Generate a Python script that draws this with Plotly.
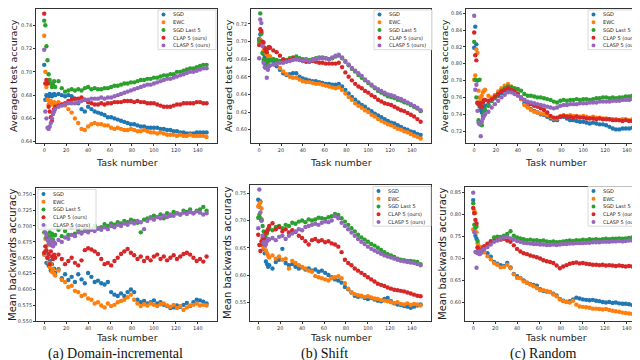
import plotly.graph_objects as go

W, H = 640, 360

tasks = [0, 1, 2, 3, 4, 5, 6, 7, 8, 9,
         10, 13, 16, 19, 22, 25, 28, 31, 34, 37,
         40, 43, 46, 49, 52, 55, 58, 61, 64, 67,
         70, 73, 76, 79, 82, 85, 88, 91, 94, 97,
         100, 103, 106, 109, 112, 115, 118, 121, 124, 127,
         130, 133, 136, 139, 142, 145, 148]

labels = ["SGD", "EWC", "SGD Last 5", "CLAP 5 (ours)", "CLASP 5 (ours)"]
colors = ["#1f77b4", "#ff7f0e", "#2ca02c", "#d62728", "#9467bd"]
x_ticks = [0, 20, 40, 60, 80, 100, 120, 140]

# (a) Domain-incremental - averaged test accuracy
dom_test_sgd = [0.706, 0.676, 0.680, 0.678, 0.679, 0.681, 0.680, 0.679, 0.680, 0.681,
                0.680, 0.681, 0.680, 0.679, 0.680, 0.679, 0.677, 0.673, 0.668, 0.666,
                0.670, 0.668, 0.666, 0.665, 0.664, 0.663, 0.661, 0.661, 0.660, 0.659,
                0.658, 0.657, 0.656, 0.655, 0.655, 0.654, 0.653, 0.653, 0.652, 0.652,
                0.652, 0.652, 0.651, 0.651, 0.650, 0.650, 0.649, 0.649, 0.648, 0.648,
                0.647, 0.647, 0.647, 0.648, 0.648, 0.648, 0.648]
dom_test_ewc = [0.731, 0.700, 0.687, 0.676, 0.672, 0.674, 0.675, 0.672, 0.673, 0.674,
                0.673, 0.674, 0.672, 0.671, 0.668, 0.665, 0.660, 0.656, 0.651, 0.650,
                0.653, 0.655, 0.656, 0.655, 0.655, 0.654, 0.654, 0.652, 0.651, 0.652,
                0.651, 0.650, 0.650, 0.651, 0.650, 0.649, 0.649, 0.650, 0.649, 0.648,
                0.648, 0.647, 0.648, 0.647, 0.646, 0.646, 0.646, 0.645, 0.646, 0.645,
                0.645, 0.646, 0.645, 0.645, 0.645, 0.645, 0.644]
dom_test_last = [0.744, 0.740, 0.722, 0.710, 0.698, 0.693, 0.690, 0.687, 0.689, 0.692,
                 0.687, 0.692, 0.686, 0.683, 0.684, 0.685, 0.684, 0.685, 0.684, 0.686,
                 0.687, 0.685, 0.686, 0.685, 0.685, 0.686, 0.686, 0.687, 0.688, 0.688,
                 0.689, 0.690, 0.690, 0.691, 0.691, 0.692, 0.693, 0.693, 0.694, 0.694,
                 0.695, 0.695, 0.696, 0.697, 0.697, 0.698, 0.698, 0.700, 0.700, 0.701,
                 0.702, 0.703, 0.703, 0.704, 0.705, 0.706, 0.706]
dom_test_clap = [0.750, 0.690, 0.693, 0.690, 0.670, 0.666, 0.661, 0.658, 0.664, 0.668,
                 0.670, 0.671, 0.672, 0.673, 0.675, 0.676, 0.677, 0.677, 0.678, 0.676,
                 0.674, 0.673, 0.672, 0.672, 0.673, 0.672, 0.673, 0.673, 0.674, 0.674,
                 0.674, 0.675, 0.675, 0.675, 0.674, 0.675, 0.674, 0.674, 0.673, 0.673,
                 0.673, 0.672, 0.671, 0.670, 0.670, 0.670, 0.671, 0.672, 0.672, 0.673,
                 0.673, 0.673, 0.673, 0.674, 0.674, 0.673, 0.673]
dom_test_clasp = [0.719, 0.666, 0.660, 0.652, 0.651, 0.653, 0.656, 0.660, 0.664, 0.666,
                  0.668, 0.670, 0.671, 0.672, 0.673, 0.673, 0.673, 0.674, 0.675, 0.676,
                  0.676, 0.677, 0.677, 0.677, 0.678, 0.677, 0.678, 0.678, 0.679, 0.680,
                  0.681, 0.682, 0.683, 0.684, 0.685, 0.686, 0.687, 0.688, 0.689, 0.689,
                  0.690, 0.691, 0.692, 0.693, 0.694, 0.694, 0.695, 0.696, 0.697, 0.698,
                  0.699, 0.700, 0.700, 0.701, 0.702, 0.703, 0.703]

# (b) Shift - averaged test accuracy
shift_test_sgd = [0.703, 0.708, 0.710, 0.699, 0.686, 0.682, 0.678, 0.673, 0.677, 0.679,
                  0.679, 0.677, 0.672, 0.668, 0.664, 0.662, 0.663, 0.664, 0.664, 0.660,
                  0.658, 0.657, 0.656, 0.655, 0.655, 0.654, 0.653, 0.652, 0.652, 0.651,
                  0.651, 0.652, 0.649, 0.645, 0.641, 0.637, 0.634, 0.631, 0.628, 0.626,
                  0.623, 0.621, 0.618, 0.616, 0.614, 0.612, 0.610, 0.608, 0.607, 0.605,
                  0.603, 0.601, 0.600, 0.598, 0.597, 0.595, 0.594]
shift_test_ewc = [0.699, 0.702, 0.700, 0.697, 0.690, 0.688, 0.687, 0.686, 0.684, 0.683,
                  0.683, 0.680, 0.675, 0.670, 0.666, 0.663, 0.660, 0.659, 0.659, 0.657,
                  0.655, 0.654, 0.654, 0.653, 0.652, 0.652, 0.651, 0.650, 0.649, 0.648,
                  0.647, 0.648, 0.645, 0.641, 0.637, 0.634, 0.630, 0.627, 0.625, 0.622,
                  0.620, 0.617, 0.615, 0.612, 0.610, 0.608, 0.606, 0.605, 0.603, 0.601,
                  0.600, 0.598, 0.597, 0.595, 0.593, 0.592, 0.590]
shift_test_last = [0.701, 0.732, 0.709, 0.687, 0.679, 0.676, 0.673, 0.678, 0.679, 0.678,
                   0.679, 0.680, 0.679, 0.678, 0.677, 0.679, 0.681, 0.682, 0.683, 0.681,
                   0.680, 0.680, 0.679, 0.680, 0.681, 0.682, 0.682, 0.681, 0.680, 0.681,
                   0.683, 0.684, 0.681, 0.677, 0.673, 0.669, 0.666, 0.662, 0.659, 0.656,
                   0.653, 0.650, 0.647, 0.644, 0.642, 0.640, 0.638, 0.637, 0.636, 0.634,
                   0.633, 0.631, 0.630, 0.628, 0.626, 0.624, 0.621]
shift_test_clap = [0.696, 0.714, 0.712, 0.700, 0.699, 0.693, 0.690, 0.688, 0.692, 0.694,
                   0.693, 0.690, 0.688, 0.684, 0.680, 0.678, 0.679, 0.681, 0.680, 0.679,
                   0.678, 0.677, 0.677, 0.678, 0.677, 0.676, 0.676, 0.675, 0.675, 0.675,
                   0.675, 0.676, 0.671, 0.665, 0.660, 0.656, 0.652, 0.649, 0.647, 0.644,
                   0.642, 0.639, 0.637, 0.634, 0.632, 0.630, 0.629, 0.628, 0.626, 0.624,
                   0.622, 0.621, 0.619, 0.617, 0.615, 0.612, 0.609]
shift_test_clasp = [0.681, 0.725, 0.721, 0.695, 0.676, 0.671, 0.670, 0.659, 0.668, 0.672,
                    0.673, 0.674, 0.675, 0.676, 0.676, 0.677, 0.678, 0.679, 0.680, 0.679,
                    0.678, 0.679, 0.678, 0.679, 0.680, 0.681, 0.681, 0.681, 0.680, 0.682,
                    0.684, 0.685, 0.682, 0.678, 0.674, 0.670, 0.667, 0.664, 0.661, 0.657,
                    0.654, 0.651, 0.648, 0.646, 0.644, 0.642, 0.640, 0.639, 0.638, 0.636,
                    0.635, 0.633, 0.631, 0.629, 0.627, 0.625, 0.622]

# (c) Random - averaged test accuracy
rand_test_sgd = [0.819, 0.844, 0.823, 0.780, 0.753, 0.749, 0.745, 0.742, 0.745, 0.748,
                 0.750, 0.752, 0.756, 0.759, 0.762, 0.765, 0.768, 0.769, 0.767, 0.765,
                 0.763, 0.758, 0.753, 0.749, 0.746, 0.744, 0.742, 0.740, 0.739, 0.737,
                 0.735, 0.733, 0.733, 0.737, 0.737, 0.735, 0.733, 0.733, 0.732, 0.731,
                 0.731, 0.730, 0.729, 0.730, 0.729, 0.728, 0.728, 0.727, 0.725, 0.723,
                 0.722, 0.722, 0.723, 0.723, 0.723, 0.724, 0.723]
rand_test_ewc = [0.781, 0.786, 0.817, 0.813, 0.768, 0.760, 0.757, 0.762, 0.766, 0.768,
                 0.769, 0.762, 0.760, 0.763, 0.767, 0.771, 0.774, 0.776, 0.773, 0.770,
                 0.765, 0.758, 0.751, 0.748, 0.745, 0.743, 0.742, 0.741, 0.740, 0.739,
                 0.737, 0.735, 0.735, 0.738, 0.739, 0.738, 0.739, 0.738, 0.738, 0.737,
                 0.738, 0.737, 0.736, 0.737, 0.736, 0.736, 0.735, 0.735, 0.734, 0.734,
                 0.734, 0.733, 0.734, 0.734, 0.733, 0.734, 0.733]
rand_test_last = [0.826, 0.781, 0.760, 0.753, 0.733, 0.781, 0.728, 0.727, 0.738, 0.742,
                  0.745, 0.750, 0.756, 0.760, 0.764, 0.768, 0.771, 0.773, 0.772, 0.771,
                  0.770, 0.768, 0.764, 0.762, 0.762, 0.761, 0.760, 0.760, 0.759, 0.758,
                  0.757, 0.755, 0.754, 0.756, 0.757, 0.756, 0.757, 0.757, 0.758, 0.757,
                  0.758, 0.758, 0.757, 0.758, 0.759, 0.759, 0.760, 0.760, 0.759, 0.760,
                  0.759, 0.760, 0.760, 0.761, 0.761, 0.762, 0.761]
rand_test_clap = [0.837, 0.810, 0.804, 0.754, 0.752, 0.751, 0.753, 0.749, 0.754, 0.757,
                  0.757, 0.756, 0.758, 0.761, 0.764, 0.767, 0.769, 0.771, 0.769, 0.767,
                  0.764, 0.760, 0.757, 0.754, 0.752, 0.750, 0.749, 0.747, 0.745, 0.742,
                  0.738, 0.736, 0.736, 0.737, 0.738, 0.737, 0.737, 0.736, 0.737, 0.736,
                  0.736, 0.735, 0.735, 0.735, 0.734, 0.735, 0.734, 0.734, 0.734, 0.733,
                  0.733, 0.733, 0.732, 0.733, 0.732, 0.732, 0.731]
rand_test_clasp = [0.857, 0.769, 0.775, 0.744, 0.730, 0.728, 0.714, 0.731, 0.735, 0.738,
                   0.740, 0.743, 0.748, 0.752, 0.756, 0.760, 0.763, 0.766, 0.766, 0.764,
                   0.762, 0.760, 0.757, 0.755, 0.754, 0.753, 0.752, 0.751, 0.750, 0.749,
                   0.748, 0.747, 0.748, 0.750, 0.751, 0.751, 0.752, 0.752, 0.752, 0.753,
                   0.753, 0.753, 0.754, 0.754, 0.754, 0.755, 0.755, 0.755, 0.755, 0.756,
                   0.756, 0.756, 0.757, 0.757, 0.757, 0.758, 0.758]

# (a) Domain-incremental - mean backwards accuracy
dom_bwd_sgd = [0.655, 0.660, 0.642, 0.650, 0.638, 0.645, 0.630, 0.640, 0.628, 0.633,
               0.626, 0.632, 0.618, 0.624, 0.615, 0.620, 0.612, 0.624, 0.616, 0.610,
               0.626, 0.620, 0.612, 0.614, 0.610, 0.608, 0.612, 0.596, 0.592, 0.590,
               0.594, 0.590, 0.596, 0.600, 0.596, 0.584, 0.580, 0.582, 0.578, 0.580,
               0.583, 0.578, 0.580, 0.576, 0.574, 0.571, 0.572, 0.575, 0.573, 0.576,
               0.579, 0.574, 0.580, 0.584, 0.583, 0.581, 0.578]
dom_bwd_ewc = [0.655, 0.680, 0.668, 0.650, 0.642, 0.635, 0.640, 0.628, 0.632, 0.625,
               0.622, 0.630, 0.615, 0.612, 0.604, 0.606, 0.598, 0.596, 0.590, 0.592,
               0.586, 0.584, 0.578, 0.580, 0.575, 0.572, 0.578, 0.574, 0.576, 0.580,
               0.582, 0.584, 0.588, 0.592, 0.584, 0.578, 0.574, 0.577, 0.575, 0.578,
               0.576, 0.574, 0.577, 0.578, 0.575, 0.573, 0.576, 0.571, 0.574, 0.568,
               0.572, 0.575, 0.576, 0.578, 0.575, 0.576, 0.575]
dom_bwd_last = [0.690, 0.700, 0.682, 0.685, 0.676, 0.690, 0.683, 0.688, 0.678, 0.685,
                0.686, 0.694, 0.684, 0.692, 0.686, 0.698, 0.688, 0.694, 0.690, 0.696,
                0.692, 0.694, 0.700, 0.696, 0.698, 0.703, 0.700, 0.704, 0.702, 0.706,
                0.704, 0.708, 0.706, 0.710, 0.708, 0.705, 0.690, 0.710, 0.712, 0.714,
                0.716, 0.714, 0.718, 0.712, 0.720, 0.716, 0.722, 0.720, 0.718, 0.724,
                0.722, 0.726, 0.720, 0.724, 0.726, 0.730, 0.724]
dom_bwd_clap = [0.658, 0.668, 0.662, 0.650, 0.656, 0.640, 0.660, 0.652, 0.648, 0.655,
                0.650, 0.655, 0.648, 0.640, 0.645, 0.650, 0.642, 0.638, 0.646, 0.662,
                0.665, 0.663, 0.660, 0.656, 0.648, 0.640, 0.642, 0.638, 0.645, 0.650,
                0.656, 0.660, 0.664, 0.658, 0.654, 0.648, 0.652, 0.645, 0.650, 0.646,
                0.652, 0.655, 0.648, 0.652, 0.646, 0.650, 0.654, 0.648, 0.652, 0.656,
                0.658, 0.655, 0.650, 0.645, 0.648, 0.644, 0.652]
dom_bwd_clasp = [0.700, 0.690, 0.686, 0.678, 0.672, 0.680, 0.670, 0.676, 0.668, 0.674,
                 0.672, 0.678, 0.675, 0.682, 0.680, 0.686, 0.684, 0.690, 0.688, 0.692,
                 0.690, 0.695, 0.692, 0.696, 0.694, 0.698, 0.695, 0.700, 0.698, 0.702,
                 0.700, 0.704, 0.702, 0.706, 0.704, 0.708, 0.706, 0.695, 0.708, 0.712,
                 0.710, 0.714, 0.712, 0.716, 0.714, 0.718, 0.716, 0.720, 0.718, 0.721,
                 0.719, 0.722, 0.720, 0.723, 0.721, 0.718, 0.720]

# (b) Shift - mean backwards accuracy
shift_bwd_sgd = [0.738, 0.725, 0.735, 0.700, 0.655, 0.648, 0.640, 0.625, 0.620, 0.615,
                 0.618, 0.612, 0.624, 0.628, 0.648, 0.622, 0.618, 0.620, 0.615, 0.612,
                 0.614, 0.610, 0.612, 0.608, 0.610, 0.606, 0.608, 0.604, 0.600, 0.596,
                 0.592, 0.590, 0.586, 0.578, 0.574, 0.568, 0.562, 0.560, 0.561, 0.558,
                 0.556, 0.558, 0.555, 0.553, 0.552, 0.556, 0.558, 0.552, 0.548, 0.546,
                 0.545, 0.543, 0.542, 0.540, 0.542, 0.544, 0.546]
shift_bwd_ewc = [0.726, 0.730, 0.733, 0.722, 0.660, 0.650, 0.652, 0.645, 0.640, 0.636,
                 0.632, 0.636, 0.630, 0.634, 0.628, 0.630, 0.612, 0.626, 0.622, 0.618,
                 0.615, 0.612, 0.608, 0.606, 0.598, 0.596, 0.594, 0.592, 0.590, 0.594,
                 0.596, 0.598, 0.594, 0.585, 0.575, 0.568, 0.565, 0.563, 0.562, 0.560,
                 0.561, 0.559, 0.557, 0.556, 0.554, 0.553, 0.552, 0.550, 0.549, 0.550,
                 0.547, 0.546, 0.548, 0.545, 0.547, 0.546, 0.544]
shift_bwd_last = [0.705, 0.710, 0.704, 0.702, 0.690, 0.680, 0.672, 0.668, 0.676, 0.683,
                  0.686, 0.682, 0.688, 0.690, 0.686, 0.692, 0.690, 0.696, 0.694, 0.698,
                  0.700, 0.697, 0.702, 0.700, 0.702, 0.705, 0.704, 0.703, 0.706, 0.708,
                  0.712, 0.710, 0.704, 0.698, 0.692, 0.686, 0.680, 0.674, 0.669, 0.665,
                  0.661, 0.657, 0.654, 0.650, 0.646, 0.642, 0.638, 0.636, 0.633, 0.630,
                  0.628, 0.627, 0.626, 0.626, 0.625, 0.624, 0.620]
shift_bwd_clap = [0.674, 0.655, 0.644, 0.662, 0.668, 0.672, 0.665, 0.678, 0.680, 0.684,
                  0.690, 0.695, 0.684, 0.688, 0.680, 0.684, 0.678, 0.682, 0.679, 0.672,
                  0.668, 0.662, 0.656, 0.664, 0.666, 0.662, 0.664, 0.660, 0.662, 0.658,
                  0.656, 0.652, 0.642, 0.628, 0.622, 0.618, 0.612, 0.608, 0.604, 0.600,
                  0.596, 0.592, 0.588, 0.584, 0.582, 0.580, 0.577, 0.575, 0.573, 0.572,
                  0.571, 0.570, 0.568, 0.566, 0.564, 0.562, 0.561]
shift_bwd_clasp = [0.686, 0.757, 0.715, 0.700, 0.672, 0.660, 0.655, 0.656, 0.662, 0.666,
                   0.665, 0.668, 0.664, 0.670, 0.672, 0.666, 0.672, 0.676, 0.680, 0.684,
                   0.682, 0.688, 0.690, 0.692, 0.694, 0.692, 0.696, 0.698, 0.697, 0.700,
                   0.708, 0.704, 0.696, 0.690, 0.684, 0.678, 0.672, 0.666, 0.661, 0.657,
                   0.652, 0.648, 0.645, 0.642, 0.639, 0.636, 0.634, 0.632, 0.630, 0.628,
                   0.626, 0.625, 0.624, 0.623, 0.622, 0.620, 0.618]

# (c) Random - mean backwards accuracy
rand_bwd_sgd = [0.833, 0.804, 0.752, 0.745, 0.725, 0.718, 0.722, 0.720, 0.716, 0.719,
                0.722, 0.712, 0.704, 0.692, 0.688, 0.685, 0.683, 0.690, 0.680, 0.665,
                0.660, 0.656, 0.650, 0.645, 0.642, 0.640, 0.638, 0.630, 0.626, 0.625,
                0.624, 0.620, 0.616, 0.608, 0.604, 0.602, 0.603, 0.607, 0.611, 0.609,
                0.607, 0.606, 0.605, 0.606, 0.604, 0.603, 0.601, 0.600, 0.601, 0.599,
                0.600, 0.598, 0.597, 0.597, 0.596, 0.594, 0.593]
rand_bwd_ewc = [0.766, 0.809, 0.804, 0.760, 0.735, 0.728, 0.724, 0.726, 0.720, 0.716,
                0.714, 0.705, 0.698, 0.690, 0.686, 0.680, 0.681, 0.686, 0.678, 0.664,
                0.656, 0.655, 0.648, 0.645, 0.641, 0.637, 0.633, 0.628, 0.628, 0.626,
                0.624, 0.618, 0.614, 0.607, 0.603, 0.601, 0.600, 0.604, 0.595, 0.591,
                0.590, 0.589, 0.588, 0.586, 0.586, 0.585, 0.584, 0.585, 0.583, 0.581,
                0.580, 0.579, 0.577, 0.576, 0.575, 0.574, 0.578]
rand_bwd_last = [0.826, 0.777, 0.770, 0.773, 0.740, 0.722, 0.716, 0.714, 0.718, 0.722,
                 0.726, 0.732, 0.740, 0.748, 0.750, 0.749, 0.752, 0.756, 0.762, 0.752,
                 0.748, 0.746, 0.744, 0.742, 0.743, 0.741, 0.742, 0.740, 0.741, 0.739,
                 0.738, 0.739, 0.737, 0.738, 0.739, 0.740, 0.741, 0.740, 0.742, 0.741,
                 0.743, 0.742, 0.744, 0.743, 0.744, 0.743, 0.744, 0.745, 0.744, 0.745,
                 0.745, 0.746, 0.745, 0.746, 0.747, 0.748, 0.747]
rand_bwd_clap = [0.815, 0.803, 0.788, 0.780, 0.725, 0.718, 0.712, 0.715, 0.720, 0.724,
                 0.728, 0.734, 0.738, 0.740, 0.742, 0.743, 0.745, 0.741, 0.738, 0.730,
                 0.722, 0.716, 0.712, 0.710, 0.707, 0.705, 0.703, 0.700, 0.696, 0.694,
                 0.692, 0.690, 0.684, 0.678, 0.682, 0.685, 0.688, 0.690, 0.691, 0.689,
                 0.690, 0.688, 0.687, 0.686, 0.686, 0.685, 0.686, 0.684, 0.685, 0.684,
                 0.683, 0.684, 0.683, 0.682, 0.683, 0.682, 0.682]
rand_bwd_clasp = [0.850, 0.760, 0.715, 0.679, 0.712, 0.716, 0.710, 0.714, 0.718, 0.720,
                  0.722, 0.726, 0.732, 0.738, 0.741, 0.745, 0.748, 0.750, 0.746, 0.743,
                  0.740, 0.738, 0.736, 0.735, 0.734, 0.733, 0.733, 0.732, 0.732, 0.731,
                  0.731, 0.732, 0.731, 0.732, 0.733, 0.733, 0.734, 0.734, 0.735, 0.735,
                  0.735, 0.736, 0.736, 0.737, 0.737, 0.737, 0.738, 0.738, 0.738, 0.739,
                  0.739, 0.740, 0.739, 0.740, 0.741, 0.741, 0.742]

# panel frames in pixels (left, right, top, bottom) plus axis settings
panels = [
    dict(series=[dom_test_sgd, dom_test_ewc, dom_test_last, dom_test_clap, dom_test_clasp],
         box=(28, 209, 1, 136), yrange=[0.639, 0.754], tick0=0.64, dtick=0.02, fmt=".2f",
         ytitle="Averaged test accuracy", ytx=6, leg=(150, 2)),
    dict(series=[shift_test_sgd, shift_test_ewc, shift_test_last, shift_test_clap, shift_test_clasp],
         box=(243, 423, 1, 136), yrange=[0.585, 0.737], tick0=0.60, dtick=0.02, fmt=".2f",
         ytitle="Averaged test accuracy", ytx=221, leg=(366, 2)),
    dict(series=[rand_test_sgd, rand_test_ewc, rand_test_last, rand_test_clap, rand_test_clasp],
         box=(458, 638, 1, 136), yrange=[0.706, 0.865], tick0=0.72, dtick=0.02, fmt=".2f",
         ytitle="Averaged test accuracy", ytx=437, leg=(580, 2)),
    dict(series=[dom_bwd_sgd, dom_bwd_ewc, dom_bwd_last, dom_bwd_clap, dom_bwd_clasp],
         box=(28, 209, 182, 316), yrange=[0.55, 0.759], tick0=0.575, dtick=0.025, fmt=".3f",
         ytitle="Mean backwards accuracy", ytx=5, leg=(30, 183)),
    dict(series=[shift_bwd_sgd, shift_bwd_ewc, shift_bwd_last, shift_bwd_clap, shift_bwd_clasp],
         box=(242, 423, 178, 316), yrange=[0.515, 0.766], tick0=0.55, dtick=0.05, fmt=".2f",
         ytitle="Mean backwards accuracy", ytx=220, leg=(365, 180)),
    dict(series=[rand_bwd_sgd, rand_bwd_ewc, rand_bwd_last, rand_bwd_clap, rand_bwd_clasp],
         box=(457, 638, 180, 316), yrange=[0.557, 0.864], tick0=0.60, dtick=0.05, fmt=".2f",
         ytitle="Mean backwards accuracy", ytx=435, leg=(580, 180)),
]

captions = ["(a) Domain-incremental", "(b) Shift", "(c) Random"]
caption_x = [107, 316, 535]


def px(x):
    return x / W


def py(y):
    return 1 - y / H


fig = go.Figure()
layout = {}
shapes = []
annotations = []
axis_font = dict(family="DejaVu Sans", size=5, color="#333333")

for i, p in enumerate(panels):
    n = "" if i == 0 else str(i + 1)
    l, r, t, b = p["box"]
    for k, ys in enumerate(p["series"]):
        fig.add_trace(go.Scatter(
            x=tasks, y=ys, mode="markers", name=labels[k],
            xaxis="x" + n, yaxis="y" + n, showlegend=False,
            marker=dict(color=colors[k], size=4.4, line=dict(width=0)),
        ))
    common = dict(showline=True, linecolor="#333333", linewidth=0.8, mirror=True,
                  ticks="outside", ticklen=2, tickwidth=0.8, tickcolor="#333333",
                  showgrid=False, zeroline=False, tickfont=axis_font)
    layout["xaxis" + n] = dict(domain=[px(l), px(r)], range=[-7.5, 157.5],
                               anchor="y" + n, tickvals=x_ticks, **common)
    layout["yaxis" + n] = dict(domain=[py(b), py(t)], range=p["yrange"],
                               anchor="x" + n, tick0=p["tick0"], dtick=p["dtick"],
                               tickformat=p["fmt"], **common)

    # axis titles
    bottom_row = i >= 3
    annotations.append(dict(text="Task number", xref="paper", yref="paper",
                            x=px((l + r) / 2), y=py(b + (9 if bottom_row else 12)),
                            showarrow=False, xanchor="center", yanchor="top",
                            font=dict(family="DejaVu Sans", size=9.5, color="#222222")))
    annotations.append(dict(text=p["ytitle"], xref="paper", yref="paper",
                            x=px(p["ytx"]), y=py((t + b) / 2), showarrow=False,
                            textangle=-90, xanchor="center", yanchor="middle",
                            font=dict(family="DejaVu Sans", size=10 if bottom_row else 9.5,
                                      color="#222222")))

    # legend box drawn by hand (plotly legend rows cannot be this small)
    lx, ly = p["leg"]
    shapes.append(dict(type="rect", xref="paper", yref="paper",
                       x0=px(lx), x1=px(lx + 58), y0=py(ly + 40), y1=py(ly),
                       fillcolor="rgba(255,255,255,0.85)",
                       line=dict(color="#d0d0d0", width=0.8), layer="above"))
    for k, name in enumerate(labels):
        cy = ly + 4.5 + 7.8 * k
        cx = lx + 5.5
        shapes.append(dict(type="circle", xref="paper", yref="paper",
                           x0=px(cx - 2), x1=px(cx + 2), y0=py(cy + 2), y1=py(cy - 2),
                           fillcolor=colors[k], line=dict(width=0), layer="above"))
        annotations.append(dict(text=name, xref="paper", yref="paper",
                                x=px(lx + 13), y=py(cy), showarrow=False,
                                xanchor="left", yanchor="middle",
                                font=dict(family="DejaVu Sans", size=5, color="#222222")))

for cap, cx in zip(captions, caption_x):
    annotations.append(dict(text=cap, xref="paper", yref="paper", x=px(cx), y=py(349),
                            showarrow=False, xanchor="center", yanchor="middle",
                            font=dict(family="Liberation Serif", size=14, color="#111111")))

fig.update_layout(
    width=W, height=H,
    margin=dict(l=0, r=0, t=0, b=0),
    paper_bgcolor="white", plot_bgcolor="white",
    showlegend=False,
    shapes=shapes, annotations=annotations,
    **layout,
)

fig.write_html("out.html")
